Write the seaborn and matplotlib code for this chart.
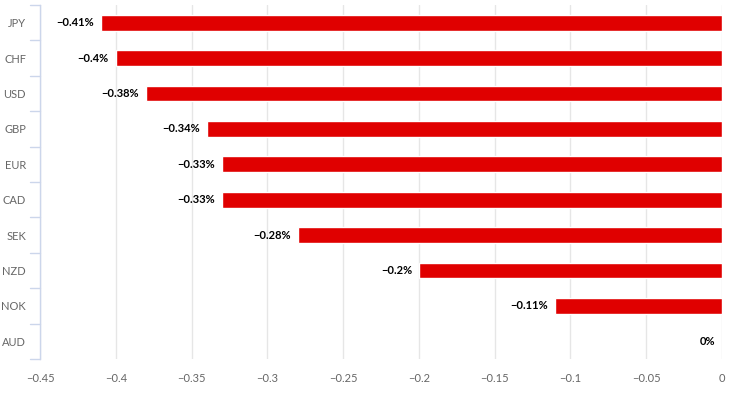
import matplotlib
matplotlib.use("Agg")
import matplotlib.pyplot as plt
import seaborn as sns
import pandas as pd
import numpy as np
from matplotlib.ticker import FixedLocator, FuncFormatter

currencies = ["JPY", "CHF", "USD", "GBP", "EUR", "CAD", "SEK", "NZD", "NOK", "AUD"]
changes = [-0.41, -0.4, -0.38, -0.34, -0.33, -0.33, -0.28, -0.2, -0.11, 0.0]
xticks = [-0.45, -0.4, -0.35, -0.3, -0.25, -0.2, -0.15, -0.1, -0.05, 0]

df = pd.DataFrame({"currency": currencies, "change": changes})

sns.set_style("white")
plt.rcParams['font.family'] = ['Lato', 'DejaVu Sans']

fig = plt.figure(figsize=(7.3, 4.03), dpi=100)
ax = fig.add_axes([40/730, 44/403, 682/730, (359-5)/403])

sns.barplot(data=df, x="change", y="currency", orient="h", color="#e00000",
            saturation=1, width=0.45, ax=ax, zorder=3)

ax.set_xlim(-0.45, 0)
ax.set_ylim(len(currencies) - 0.5, -0.5)
ax.xaxis.set_major_locator(FixedLocator(xticks))
def fmt(v, pos):
    if abs(v) < 1e-9:
        return "0"
    s = ("%g" % v).replace("-", "\u2212")
    return s
ax.xaxis.set_major_formatter(FuncFormatter(fmt))
ax.grid(axis="x", color="#e6e6e6", linewidth=1, zorder=0)
ax.set_axisbelow(True)

for s in ["top", "right", "bottom"]:
    ax.spines[s].set_visible(False)
ax.spines["left"].set_color("#ccd6eb")
ax.spines["left"].set_linewidth(1)

ax.set_xlabel("")
ax.set_ylabel("")
ax.tick_params(axis="x", length=0, labelsize=8, labelcolor="#666666", pad=10)
ax.tick_params(axis="y", length=0, labelsize=8, labelcolor="#666666", pad=10)

# category boundary tick marks
for b in np.arange(-0.5, len(currencies), 1.0):
    ax.plot([-0.45 - 10/1515.6, -0.45], [b, b], color="#ccd6eb", lw=1,
            clip_on=False, zorder=4)

for i, v in enumerate(changes):
    label = ("%g%%" % v).replace("-", "\u2212")
    if v == 0:
        label = "0%"
    ax.annotate(label, xy=(v, i), xytext=(-5, 0), textcoords="offset points",
                ha="right", va="center", fontsize=8, fontweight="bold",
                color="#000000")

fig.savefig("out.png", dpi=100)
